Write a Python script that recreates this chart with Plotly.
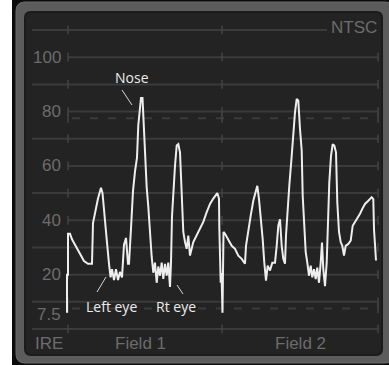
import plotly.graph_objects as go

# Waveform: sample position along the two fields (155 samples per field) and level in IRE
sample = [0, 0, 1, 1, 3, 5, 8, 11, 14, 17, 21, 23, 25, 26, 29, 31, 34, 35.5, 36.5, 38,
          39.7, 42, 43.6, 45, 47, 49, 51, 53, 55, 57, 59, 61, 62, 64, 66, 68, 70, 71.3,
          73, 74, 75.5, 76.3, 78, 79.7, 81.3, 83, 84.7, 86.3, 88, 89.7, 91.3, 93, 94.7,
          96.3, 98, 99.7, 101.3, 103, 104, 105, 106.3, 108, 109.7, 111.3, 113, 114.7,
          116.3, 118, 119.7, 121.3, 123, 126.3, 129.7, 133, 136.3, 139.7, 143, 146.3,
          150.3, 152, 152.3, 153.7, 154.5, 155.5, 156.5, 158, 161.3, 164.7, 168, 171.3,
          174.7, 178, 179, 181.3, 183.7, 186.3, 189, 190.3, 192, 193.7, 195.7, 197.3, 199,
          200.7, 203, 205.3, 208, 209.7, 211.3, 213, 214.7, 216.3, 218, 219, 220.3, 222.3,
          224.7, 226.3, 228, 229.7, 231.3, 233, 234.7, 235.7, 237, 238.7, 240.3, 242,
          243.7, 245.3, 247, 248.7, 250.3, 252, 253.7, 255, 256.3, 258, 259.7, 261, 262.3,
          264, 265.7, 267.3, 269, 270.3, 272, 273.7, 275.3, 277, 278.7, 281.3, 283.7,
          285.7, 288, 290.3, 293, 295.3, 298, 301.3, 304.7, 306.3, 307, 309]
ire = [6, 20, 20, 35, 35, 33, 31, 29, 27, 25, 24, 24, 24, 39, 45, 48, 52, 50, 46, 39,
       33, 24, 19, 22, 18, 22, 18, 21, 19, 31, 33.5, 24, 24, 37, 50.7, 58, 63, 75,
       81, 85, 85, 78, 62, 52, 45, 35, 26.5, 20.7, 24.4, 17, 23, 19.6, 24.4,
       18.4, 24, 19.6, 24.4, 15.5, 24.4, 41.5, 51, 60, 67.5, 68, 65, 45.5,
       35.7, 32, 29.5, 34.4, 27, 32, 34.4, 37, 39.4, 43, 46, 48,
       50, 48, 37.5, 17, 20.6, 6, 35.7, 35, 32.6, 30.6, 29.5, 27,
       25.8, 24, 30.6, 36.8, 41.7, 47.2, 51.5, 52.7, 47.8, 41.7, 33, 24.4, 17.8,
       23.3, 21.5, 24.4, 24.4, 30.6, 38, 40.4, 30.6, 25.8, 24, 34.4, 43, 52.7,
       63.7, 72.4, 79.8, 84.7, 84, 73.6, 65.7, 49, 38, 28.3, 24.4, 19.6,
       23.3, 19, 22, 18.4, 22.6, 17, 24.4, 31.8, 22, 15.8, 24.4, 41.7, 54,
       63.7, 68, 67.5, 65, 46.6, 35.7, 32, 30.6, 27, 30.6, 31.3, 32.5,
       38, 39.4, 40.6, 42.4, 44.2, 46, 47.2, 48.5, 47.8, 36.8, 25.2]

grid_levels = [110, 100, 90, 80, 70, 60, 50, 40, 30, 20, 10, 0]
labelled_levels = [100, 80, 60, 40, 20]
dashed_levels = [77.5, 7.5]
scale_labels = ["100", "80", "60", "40", "20", "7.5"]
scale_label_levels = [100, 80, 60, 40, 20, 7.5]
field_labels = ["Field 1", "Field 2"]
field_centres = [73, 233]
callouts = ["Nose", "Left eye", "Rt eye"]

W, H = 389, 365
X0 = 67          # pixel column of the first sample
Y0 = 329         # pixel row of 0 IRE
PX_PER_IRE = 2.718


def xs(px):
    return px - X0


def ys(py):
    return (Y0 - py) / PX_PER_IRE


def rounded(x0, y0, x1, y1, r):
    # rounded rectangle path in data units, from pixel corners
    a, b, c, d = xs(x0), xs(x1), ys(y0), ys(y1)
    rx, ry = r, r / PX_PER_IRE
    return (f"M {a+rx},{c} L {b-rx},{c} Q {b},{c} {b},{c-ry} "
            f"L {b},{d+ry} Q {b},{d} {b-rx},{d} L {a+rx},{d} "
            f"Q {a},{d} {a},{d+ry} L {a},{c-ry} Q {a},{c} {a+rx},{c} Z")


shapes = []
# case: black body, grey bezel, dark screen
shapes.append(dict(type="rect", xref="x", yref="y", x0=xs(12), x1=xs(395), y0=ys(0), y1=ys(370),
                   fillcolor="#0c0c0c", line_width=0, layer="below"))
shapes.append(dict(type="path", xref="x", yref="y", path=rounded(16, 2, 394, 363, 9),
                   fillcolor="#5c5c5c", line=dict(color="#6a6a6a", width=1), layer="below"))
shapes.append(dict(type="path", xref="x", yref="y", path=rounded(25, 12, 382, 355, 6),
                   fillcolor="#232323", line=dict(color="#1b1b1b", width=2), layer="below"))

grid_col = "#3b3b3b"
for lv in grid_levels:
    start = 68 if lv in labelled_levels else 32
    end = 327 if lv == 110 else 378
    shapes.append(dict(type="line", xref="x", yref="y", x0=xs(start), x1=xs(end), y0=lv, y1=lv,
                       line=dict(color=grid_col, width=2), layer="below"))
for lv in dashed_levels:
    shapes.append(dict(type="line", xref="x", yref="y", x0=xs(72), x1=xs(378), y0=lv, y1=lv,
                       line=dict(color=grid_col, width=2, dash="8px,10px"), layer="below"))
for lv in grid_levels + dashed_levels:
    for tx in (68, 222, 378):
        if lv == 110 and tx == 378:
            continue
        shapes.append(dict(type="line", xref="x", yref="y", x0=xs(tx), x1=xs(tx),
                           y0=lv - 1.6, y1=lv + 1.6,
                           line=dict(color="#444444", width=1.5), layer="below"))

# callout pointers
for (ax0, ay0, ax1, ay1) in [(122, 90, 132, 105), (97, 292, 106, 277), (177, 285, 183, 294)]:
    shapes.append(dict(type="line", xref="x", yref="y", x0=xs(ax0), x1=xs(ax1),
                       y0=ys(ay0), y1=ys(ay1), line=dict(color="#d8d8d8", width=1)))

bezel_font = dict(family="Liberation Sans, Arial, sans-serif", size=17, color="#6c6c6c")
ann = []
for txt, lv in zip(scale_labels, scale_label_levels):
    ann.append(dict(x=xs(63), y=lv, text=txt, xref="x", yref="y", xanchor="right",
                    yanchor="middle", showarrow=False, font=bezel_font,
                    yshift=-6 if txt == "7.5" else 0))
ann.append(dict(x=xs(33), y=ys(343), text="IRE", xref="x", yref="y", xanchor="left",
                yanchor="middle", showarrow=False, font=bezel_font))
for txt, c in zip(field_labels, field_centres):
    ann.append(dict(x=c, y=ys(343), text=txt, xref="x", yref="y", xanchor="center",
                    yanchor="middle", showarrow=False, font=bezel_font))
ann.append(dict(x=xs(379), y=ys(27), text="NTSC", xref="x", yref="y", xanchor="right",
                yanchor="middle", showarrow=False, font=bezel_font))

callout_font = dict(family="Open Sans, Noto Sans, sans-serif", size=14, color="#ececec")
for txt, (cx, cy) in zip(callouts, [(132, 77), (111, 306), (176, 306)]):
    ann.append(dict(x=xs(cx), y=ys(cy), text=txt, xref="x", yref="y", xanchor="center",
                    yanchor="middle", showarrow=False, font=callout_font))

fig = go.Figure(go.Scatter(x=sample, y=ire, mode="lines",
                           line=dict(color="#eeeeee", width=2), hoverinfo="skip"))
fig.update_layout(
    width=W, height=H, margin=dict(l=0, r=0, t=0, b=0),
    paper_bgcolor="#ffffff", plot_bgcolor="#ffffff",
    xaxis=dict(range=[xs(0), xs(W)], visible=False, fixedrange=True),
    yaxis=dict(range=[ys(H), ys(0)], visible=False, fixedrange=True),
    shapes=shapes, annotations=ann, showlegend=False,
)
fig.write_html("out.html")
